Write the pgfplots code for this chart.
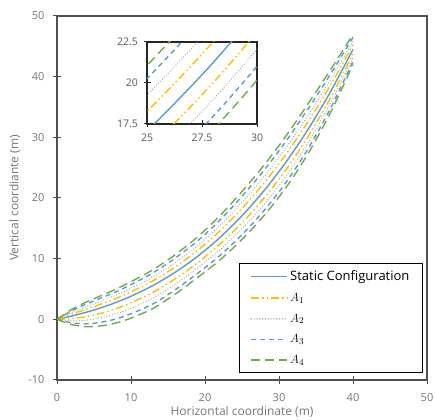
\documentclass[border=0pt]{standalone}
\usepackage{fontspec}
\setmainfont{Open Sans}
\usepackage{pgfplots}
\pgfplotsset{compat=1.18}
\usepackage{pgfplotstable}
\definecolor{cstat}{RGB}{91,155,213}
\definecolor{cyel}{RGB}{255,192,0}
\definecolor{cgray}{RGB}{165,165,165}
\definecolor{cgreen}{RGB}{112,173,71}
\definecolor{axgray}{RGB}{80,80,80}
\definecolor{txtgray}{RGB}{118,118,118}
\pgfplotstableread{
x s a1u a1l a2u a2l a3u a3l a4u a4l
0 0 0 0 0 0 0 0 0 0
2 0.543 0.873 0.123 1.148 -0.227 1.423 -0.577 1.643 -0.857
4 1.182 1.692 0.462 2.117 -0.138 2.542 -0.738 2.882 -1.218
6 1.929 2.529 1.029 3.029 0.279 3.529 -0.471 3.929 -1.071
8 2.800 3.460 1.780 4.010 0.930 4.560 0.080 5.000 -0.600
10 3.806 4.526 2.726 5.126 1.826 5.726 0.926 6.206 0.206
13 5.601 6.381 4.461 7.031 3.511 7.681 2.561 8.201 1.801
16 7.779 8.649 6.699 9.374 5.799 10.099 4.899 10.679 4.179
19 10.386 11.346 9.336 12.146 8.461 12.946 7.586 13.586 6.886
22 13.467 14.547 12.357 15.447 11.432 16.347 10.507 17.067 9.767
25 17.070 18.270 15.900 19.270 14.925 20.270 13.950 21.070 13.170
28 21.239 22.499 20.009 23.549 18.984 24.599 17.959 25.439 17.139
31 26.020 27.310 24.760 28.385 23.710 29.460 22.660 30.320 21.820
34 31.460 32.720 30.260 33.770 29.260 34.820 28.260 35.660 27.460
37 37.603 38.683 36.583 39.583 35.733 40.483 34.883 41.203 34.203
40 44.498 45.248 43.748 45.873 43.123 46.498 42.498 46.998 41.998
}\data
\tikzset{
  stat/.style={draw=cstat,color=cstat,line width=1.4pt,solid},
  aone/.style={draw=cyel,color=cyel,line width=1.4pt,dash pattern=on 8pt off 3pt on 1.5pt off 3pt on 1.5pt off 3pt},
  atwo/.style={draw=cgray,color=cgray,line width=1.3pt,line cap=round,dash pattern=on 0pt off 2.8pt},
  athree/.style={draw=cstat,color=cstat,line width=1.4pt,dash pattern=on 5pt off 4pt},
  afour/.style={draw=cgreen,color=cgreen,line width=1.4pt,dash pattern=on 9pt off 5pt},
}
\begin{document}
\begin{tikzpicture}
\begin{axis}[
  name=main,
  at={(57pt,39pt)}, anchor=south west, scale only axis,
  width=370pt, height=364pt,
  xmin=0, xmax=50, ymin=-10, ymax=50,
  xtick={0,10,...,50}, ytick={-10,0,...,50},
  tick align=center, tick pos=left, major tick length=8pt,
  axis line style={axgray,line width=1.2pt},
  tick style={axgray,line width=1pt},
  /pgf/number format/assume math mode=true,
  ticklabel style={font=\fontsize{11}{13}\selectfont, text=txtgray},
  xticklabel style={yshift=-6pt},
  yticklabel style={xshift=-5pt},
  xlabel={Horizontal coordinate (m)},
  ylabel={Vertical coordiante (m)},
  label style={font=\fontsize{12}{14}\selectfont, text=txtgray},
  xlabel style={at={(axis description cs:0.5,-0.088)}, anchor=center},
  ylabel style={at={(axis description cs:-0.114,0.5)}, anchor=center},
  no markers,
  legend style={at={(0.989,0.019)}, anchor=south east, draw=black, line width=1pt,
    font=\fontsize{13}{15}\selectfont, text=black, inner xsep=11pt, inner ysep=5.5pt,
    row sep=7pt},
  legend cell align=left,
  legend image code/.code={\draw[#1,line width=1.6pt] (0pt,0pt) -- (36pt,0pt);},
]
\addplot[stat, smooth] table[x=x,y=s]{\data};
\addlegendentry{Static Configuration}
\addplot[aone, smooth] table[x=x,y=a1u]{\data};
\addlegendentry{$A_1$}
\addplot[aone, smooth, forget plot] table[x=x,y=a1l]{\data};
\addplot[atwo, smooth] table[x=x,y=a2u]{\data};
\addlegendentry{$A_2$}
\addplot[atwo, smooth, forget plot] table[x=x,y=a2l]{\data};
\addplot[athree, smooth] table[x=x,y=a3u]{\data};
\addlegendentry{$A_3$}
\addplot[athree, smooth, forget plot] table[x=x,y=a3l]{\data};
\addplot[afour, smooth] table[x=x,y=a4u]{\data};
\addlegendentry{$A_4$}
\addplot[afour, smooth, forget plot] table[x=x,y=a4l]{\data};
\end{axis}
\begin{axis}[
  name=inset,
  at={(147pt,295pt)}, anchor=south west, scale only axis,
  width=110pt, height=82pt,
  xmin=25, xmax=30, ymin=17.5, ymax=22.5,
  xtick={25,27.5,30}, ytick={17.5,20,22.5},
  xticklabels={25,27.5,30}, yticklabels={17.5,20,22.5},
  tick align=center, tick pos=left, major tick length=7pt,
  axis line style={black!85,line width=1.2pt},
  tick style={black!85,line width=1pt},
  ticklabel style={font=\fontsize{10.5}{12}\selectfont, text=black!65},
  xticklabel style={yshift=-3pt},
  yticklabel style={xshift=-2pt},
  axis background/.style={fill=white},
  no markers,
]
\addplot[stat, smooth] table[x=x,y=s]{\data};
\addplot[aone, smooth] table[x=x,y=a1u]{\data};
\addplot[aone, smooth] table[x=x,y=a1l]{\data};
\addplot[atwo, smooth] table[x=x,y=a2u]{\data};
\addplot[atwo, smooth] table[x=x,y=a2l]{\data};
\addplot[athree, smooth] table[x=x,y=a3u]{\data};
\addplot[athree, smooth] table[x=x,y=a3l]{\data};
\addplot[afour, smooth] table[x=x,y=a4u]{\data};
\addplot[afour, smooth] table[x=x,y=a4l]{\data};
\end{axis}
\pgfresetboundingbox
\path[use as bounding box] (0pt,0pt) rectangle (435pt,419pt);
\end{tikzpicture}
\end{document}
